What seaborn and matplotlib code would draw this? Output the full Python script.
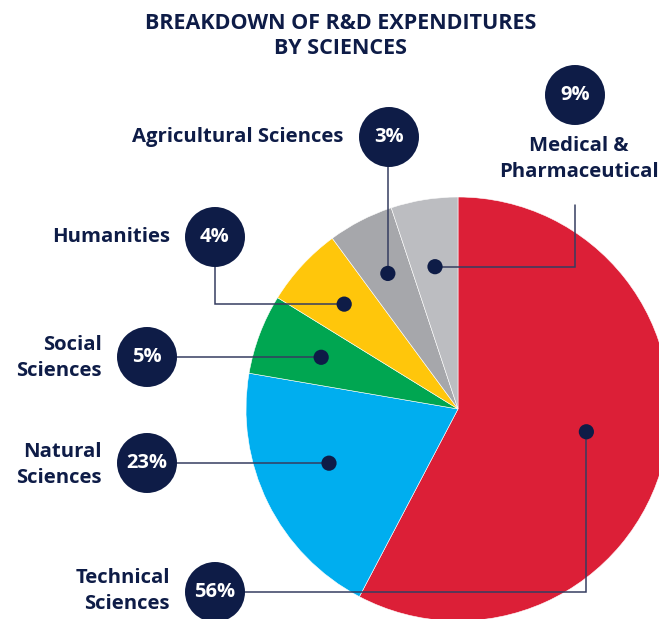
import numpy as np
import matplotlib
matplotlib.use('Agg')
import matplotlib.pyplot as plt
import seaborn as sns

# slices, clockwise from 12 o'clock
sciences = ['Technical Sciences', 'Natural Sciences', 'Social Sciences',
            'Humanities', 'Agricultural Sciences', 'Medical & Pharmaceutical']
shares = [57.7, 20.0, 6.1, 6.1, 5.0, 5.1]          # wedge sizes as drawn
pct_labels = ['56%', '23%', '5%', '4%', '3%', '9%']  # printed figures
colors = ['#dc1f37', '#00aeef', '#00a651', '#ffc60b', '#a6a7ab', '#bcbdc1']
label_text = ['Technical\nSciences', 'Natural\nSciences', 'Social\nSciences',
              'Humanities', 'Agricultural Sciences', 'Medical &\nPharmaceutical']

W, H = 659, 619
NAVY = '#0e1c47'
LINE = '#353d60'
CX, CY, R = 458, 409, 212

# layout (pixels from top-left)
dot_r_frac = [0.615, 0.66, 0.69, 0.73, 0.72, 0.68]
dot_ang_off = [3.8, -3.5, 0, 0, 0, 0]
badge_xy = [(215, 592), (147, 463), (147, 357), (215, 237), (389, 137), (575, 95)]
line_end = [(215, 592), (147, 463), (147, 357), (215, 237), (389, 137), (575, 205)]
route = ['v', 'h', 'h', 'h', 'v', 'h']
text_xy = [(170, 591), (102, 465), (102, 358), (170, 237), (343, 137), (579, 159)]
text_ha = ['right', 'right', 'right', 'right', 'right', 'center']

sns.set_theme(style='white')
plt.rcParams['font.family'] = ['Open Sans', 'DejaVu Sans']


def fy(y):
    return H - y


fig = plt.figure(figsize=(W / 100, H / 100), dpi=100)
ax = fig.add_axes([0, 0, 1, 1])

ax.pie(shares, colors=colors, startangle=90, counterclock=False,
       center=(CX, fy(CY)), radius=R,
       wedgeprops=dict(linewidth=0.4, edgecolor='white'))
ax.set_xlim(0, W)
ax.set_ylim(0, H)
ax.set_aspect('equal')
ax.axis('off')

# dot positions at each wedge's mid angle
bounds = 90 - np.cumsum([0] + shares) / 100 * 360
dots = []
for i in range(len(shares)):
    mid = np.deg2rad((bounds[i] + bounds[i + 1]) / 2 + dot_ang_off[i])
    r = R * dot_r_frac[i]
    dots.append((CX + r * np.cos(mid), CY - r * np.sin(mid)))

# connectors
for i, (dx, dy) in enumerate(dots):
    ex, ey = line_end[i]
    if route[i] == 'h':
        pts = [(dx, dy), (ex, dy), (ex, ey)]
    else:
        pts = [(dx, dy), (dx, ey), (ex, ey)]
    ax.plot([p[0] for p in pts], [fy(p[1]) for p in pts], color=LINE,
            lw=1.1, zorder=3, solid_joinstyle='miter')

sns.scatterplot(x=[d[0] for d in dots], y=[fy(d[1]) for d in dots], s=120,
                color=NAVY, edgecolor='none', ax=ax, legend=False, zorder=4)
sns.scatterplot(x=[b[0] for b in badge_xy], y=[fy(b[1]) for b in badge_xy],
                s=1866, color=NAVY, edgecolor='none', ax=ax, legend=False,
                zorder=5)

for i, (bx, by) in enumerate(badge_xy):
    ax.text(bx, fy(by), pct_labels[i], color='white', fontsize=14.5,
            fontweight='bold', ha='center', va='center', zorder=6)
    tx, ty = text_xy[i]
    ax.text(tx, fy(ty), label_text[i], color=NAVY, fontsize=14.6,
            fontweight='bold', ha=text_ha[i], va='center', linespacing=1.4,
            multialignment=text_ha[i], zorder=6)

ax.text(341, fy(36), 'BREAKDOWN OF R&D EXPENDITURES\nBY SCIENCES', color=NAVY,
        fontsize=15.5, fontweight='bold', ha='center', va='center',
        linespacing=1.3)

fig.savefig('out.png', dpi=100)
